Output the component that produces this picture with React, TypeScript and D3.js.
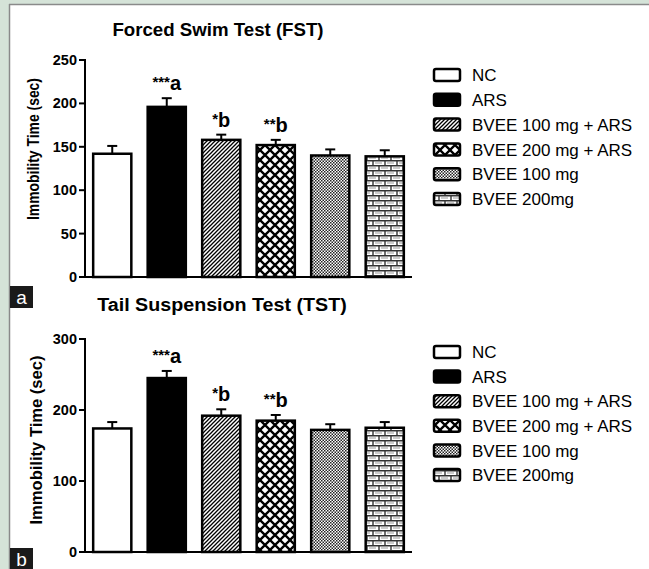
import React from 'react';
import * as d3 from 'd3';

const groups = ['NC', 'ARS', 'BVEE 100 mg + ARS', 'BVEE 200 mg + ARS', 'BVEE 100 mg', 'BVEE 200mg'];
const fills = ['#fff', '#000', 'url(#hatch)', 'url(#cross)', 'url(#dots)', 'url(#brick)'];
const stars = ['', '***', '*', '**', '', ''];
const letters = ['', 'a', 'b', 'b', '', ''];

const fstMeans = [142, 196, 158, 152, 140, 139];
const fstErrs = [9, 10, 6, 6, 7, 7];
const fstTicks = [0, 50, 100, 150, 200, 250];

const tstMeans = [174, 245, 192, 185, 172, 175];
const tstErrs = [9, 10, 9, 8, 8, 8];
const tstTicks = [0, 100, 200, 300];

const FONT = 'Liberation Sans, Arial, sans-serif';

type PanelProps = {
  title: string;
  titleX: number;
  titleY: number;
  means: number[];
  errs: number[];
  ticks: number[];
  yTop: number;
  yBottom: number;
  labelX: number;
  labelMid: number;
  labelLen: number;
  legendTop: number;
  legendStep: number;
  tag: string;
  tagY: number;
};

function Panel(p: PanelProps) {
  const x = d3.scaleBand<string>()
    .domain(groups)
    .range([85, 412])
    .paddingInner(0.3)
    .paddingOuter(0.15);
  const y = d3.scaleLinear()
    .domain([0, d3.max(p.ticks) as number])
    .range([p.yBottom, p.yTop]);
  const bw = x.bandwidth();

  return (
    <g>
      <text x={p.titleX} y={p.titleY} textAnchor="middle" fontSize={18} fontWeight="bold" fontFamily={FONT}
        textLength={p.title.length * 9.6} lengthAdjust="spacingAndGlyphs">{p.title}</text>

      {/* y axis label */}
      <text
        transform={`translate(${p.labelX},${p.labelMid}) rotate(-90)`}
        textAnchor="middle" fontSize={16} fontWeight="bold" fontFamily={FONT}
        textLength={p.labelLen} lengthAdjust="spacingAndGlyphs"
      >Immobility Time (sec)</text>

      {/* bars */}
      {groups.map((g, i) => {
        const x0 = x(g) as number;
        const cx = x0 + bw / 2;
        const top = y(p.means[i]);
        const et = y(p.means[i] + p.errs[i]);
        return (
          <g key={g}>
            <line x1={cx} x2={cx} y1={top} y2={et} stroke="#000" strokeWidth={2} />
            <line x1={cx - 5} x2={cx + 5} y1={et} y2={et} stroke="#000" strokeWidth={2} />
            <rect x={x0} y={top} width={bw} height={p.yBottom - top} fill={fills[i]} stroke="#000" strokeWidth={2.5} />
            {letters[i] && (
              <text x={cx} y={et - 8} textAnchor="middle" fontWeight="bold" fontFamily={FONT}>
                <tspan fontSize={15} dy={-3}>{stars[i]}</tspan>
                <tspan fontSize={20} dy={3}>{letters[i]}</tspan>
              </text>
            )}
          </g>
        );
      })}

      {/* axes */}
      <line x1={85} x2={85} y1={p.yTop - 1} y2={p.yBottom} stroke="#000" strokeWidth={2} />
      <line x1={84} x2={412} y1={p.yBottom} y2={p.yBottom} stroke="#000" strokeWidth={2} />
      {p.ticks.map(t => (
        <g key={t}>
          <line x1={79} x2={85} y1={y(t)} y2={y(t)} stroke="#000" strokeWidth={2} />
          <text x={77} y={y(t)} dy="0.35em" textAnchor="end" fontSize={14.5} fontWeight="bold" fontFamily={FONT}>{t}</text>
        </g>
      ))}

      {/* legend */}
      {groups.map((g, i) => {
        const cy = p.legendTop + i * p.legendStep;
        return (
          <g key={'lg' + g}>
            <rect x={434} y={cy - 6} width={26} height={12} rx={2} fill={fills[i]} stroke="#000" strokeWidth={2.5} />
            <text x={472} y={cy} dy="0.36em" fontSize={17} fontFamily={FONT}>{g}</text>
          </g>
        );
      })}

      {/* panel tag */}
      <rect x={10} y={p.tagY} width={23} height={22} fill="#1a1a1a" />
      <text x={21.5} y={p.tagY + 11} dy="0.36em" textAnchor="middle" fontSize={19} fill="#fff" fontFamily={FONT}>{p.tag}</text>
    </g>
  );
}

export default function App() {
  return (
    <svg width={649} height={569} style={{ position: 'absolute', left: 0, top: 0 }}>
      <defs>
        <pattern id="hatch" patternUnits="userSpaceOnUse" width={4} height={4}>
          <rect width={4} height={4} fill="#fff" />
          <path d="M-1,1 l2,-2 M0,4 l4,-4 M3,5 l2,-2" stroke="#000" strokeWidth={1.3} />
        </pattern>
        <pattern id="cross" patternUnits="userSpaceOnUse" width={10} height={10}>
          <rect width={10} height={10} fill="#fff" />
          <path d="M0,0 L10,10 M10,0 L0,10" stroke="#000" strokeWidth={2.3} />
        </pattern>
        <pattern id="dots" patternUnits="userSpaceOnUse" width={3} height={3}>
          <rect width={3} height={3} fill="#fff" />
          <rect width={1.5} height={1.5} fill="#222" />
          <rect x={1.5} y={1.5} width={1.5} height={1.5} fill="#222" />
        </pattern>
        <pattern id="brick" patternUnits="userSpaceOnUse" width={12} height={10}>
          <rect width={12} height={10} fill="#fff" />
          <path d="M0,0.7 H12 M0,5.7 H12 M1,0 V5 M7,5 V10" stroke="#333" strokeWidth={1.4} />
          <path d="M3,3 H10 M0,8 H4 M9,8 H12" stroke="#999" strokeWidth={1} />
        </pattern>
      </defs>

      <rect width={649} height={569} fill="#d5e3d8" />
      <rect x={10} y={5} width={639} height={564} fill="#fff" />
      <line x1={9.5} x2={9.5} y1={4} y2={569} stroke="#8a8a8a" strokeWidth={1.5} />
      <line x1={9} x2={649} y1={4.5} y2={4.5} stroke="#8a8a8a" strokeWidth={1.5} />

      <Panel
        title="Forced Swim Test (FST)" titleX={218} titleY={36}
        means={fstMeans} errs={fstErrs} ticks={fstTicks}
        yTop={60} yBottom={277}
        labelX={39} labelMid={149} labelLen={142}
        legendTop={75} legendStep={24.8}
        tag="a" tagY={286}
      />
      <Panel
        title="Tail Suspension Test (TST)" titleX={222} titleY={311}
        means={tstMeans} errs={tstErrs} ticks={tstTicks}
        yTop={339} yBottom={552}
        labelX={42} labelMid={440} labelLen={169}
        legendTop={352} legendStep={24.6}
        tag="b" tagY={548}
      />
    </svg>
  );
}
